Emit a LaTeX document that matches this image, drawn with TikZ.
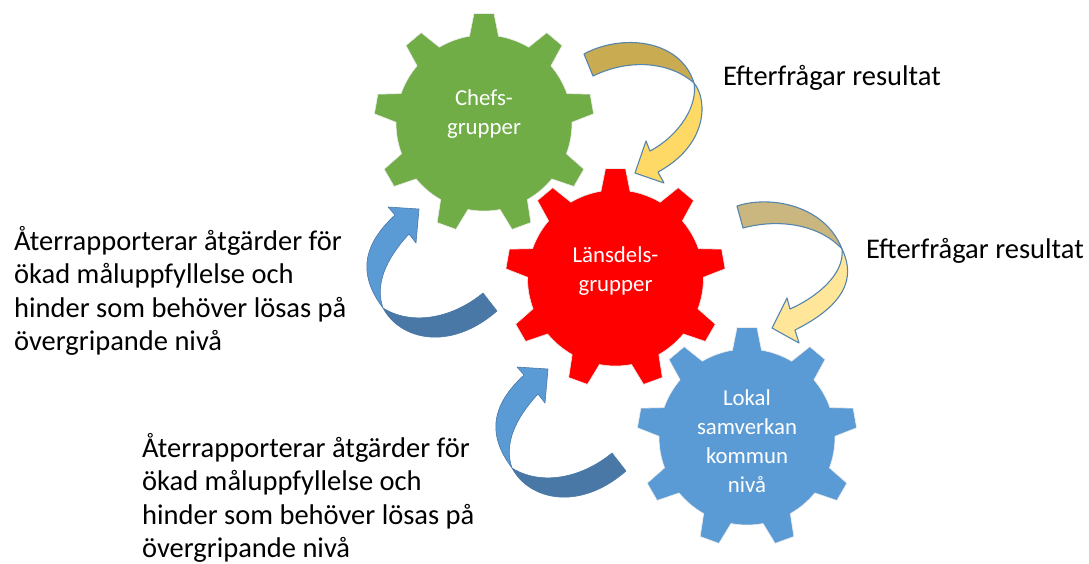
\documentclass[tikz,border=0pt]{standalone}
\usepackage{fontspec}
\setmainfont{Carlito}
\definecolor{gearGreen}{HTML}{70AD47}
\definecolor{gearBlue}{HTML}{5B9BD5}
\definecolor{askDark}{HTML}{C9AB52}
\definecolor{askLight}{HTML}{FFD966}
\definecolor{askDarkB}{HTML}{CAB67F}
\definecolor{askLightB}{HTML}{FFE699}
\definecolor{backDark}{HTML}{4A78A6}
\definecolor{askLine}{HTML}{5585AC}
\begin{document}
\begin{tikzpicture}[x=1pt, y=1pt, gear/.style = {draw=white!92!black, line width=0.6pt}, gearlabel/.style = {text=white, align=center, font=\fontsize{22.8}{29}\selectfont}, note/.style = {anchor=north west, inner sep=0, align=left, font=\fontsize{28.5}{33.4}\selectfont}, ask/.style = {draw=askLine, line width=1.1pt, line join=round}, back/.style = {draw=backDark, line width=0.6pt, line join=round}]
  \useasboundingbox (0, 0) rectangle (1089, -563);
  \foreach \cx/\cy/\col in {484/-123/gearGreen, 615.5/-278/red, 747/-437/gearBlue} {
    \filldraw[gear, fill=\col, shift={(\cx, \cy)}] (80.5:88) \foreach \a in {90, 130, ..., 410} {
      -- (\a-9.5:88) -- (\a-5.2:110) -- (\a+5.2:110) -- (\a+9.5:88) arc[start angle=\a+9.5, delta angle=21, radius=88]
    } -- cycle;
  }
  \node[gearlabel] at (484, -114) (chefs) {Chefs-\\grupper};
  \node[gearlabel] at (615.5, -271.5) (lansdels) {Länsdels-\\grupper};
  \node[gearlabel] at (747, -441) (lokal) {Lokal\\samverkan\\kommun\\nivå};
  % upper requests
  \draw[ask, fill=askDark] (584, -54) .. controls (620, -34) and (680, -38) .. (694, -83) .. controls (670, -62) and (630, -58) .. (593, -76) -- cycle;
  \draw[ask, fill=askLight] (694, -83) .. controls (708, -100) and (708, -145) .. (658, -172) -- (664, -183) -- (635, -173) -- (646, -141) -- (650, -151) .. controls (680, -135) and (698, -105) .. (694, -83) -- cycle;
  % lower requests
  \draw[ask, fill=askDarkB] (737, -206) .. controls (770, -195) and (825, -205) .. (842, -249) .. controls (820, -225) and (780, -218) .. (743, -228) -- cycle;
  \draw[ask, fill=askLightB] (842, -249) .. controls (852, -270) and (855, -300) .. (795, -330) -- (799, -343) -- (772, -328) -- (787, -298) -- (790, -309) .. controls (815, -298) and (845, -275) .. (842, -249) -- cycle;
  % reports
  \foreach \dx/\dy in {0/0, 129/-160} {
    \begin{scope}[shift={(\dx, \dy)}]
      \draw[back, fill=backDark] (383, -308) .. controls (400, -340) and (450, -352) .. (497, -311) -- (483, -293) .. controls (450, -320) and (410, -325) .. (383, -308) -- cycle;
      \draw[back, fill=gearBlue] (383, -308) .. controls (362, -280) and (357, -250) .. (395, -215) -- (388, -207) -- (419, -209) -- (416, -243) -- (409, -234) .. controls (385, -260) and (375, -285) .. (383, -308) -- cycle;
    \end{scope}
  }
  \node[note] at (723, -65.5) (ask1) {Efterfrågar resultat};
  \node[note] at (866, -238.5) (ask2) {Efterfrågar resultat};
  \node[note] at (14, -226) (report1) {Återrapporterar åtgärder för\\ökad måluppfyllelse och\\hinder som behöver lösas på\\övergripande nivå};
  \node[note] at (142, -433) (report2) {Återrapporterar åtgärder för\\ökad måluppfyllelse och\\hinder som behöver lösas på\\övergripande nivå};
\end{tikzpicture}
\end{document}
